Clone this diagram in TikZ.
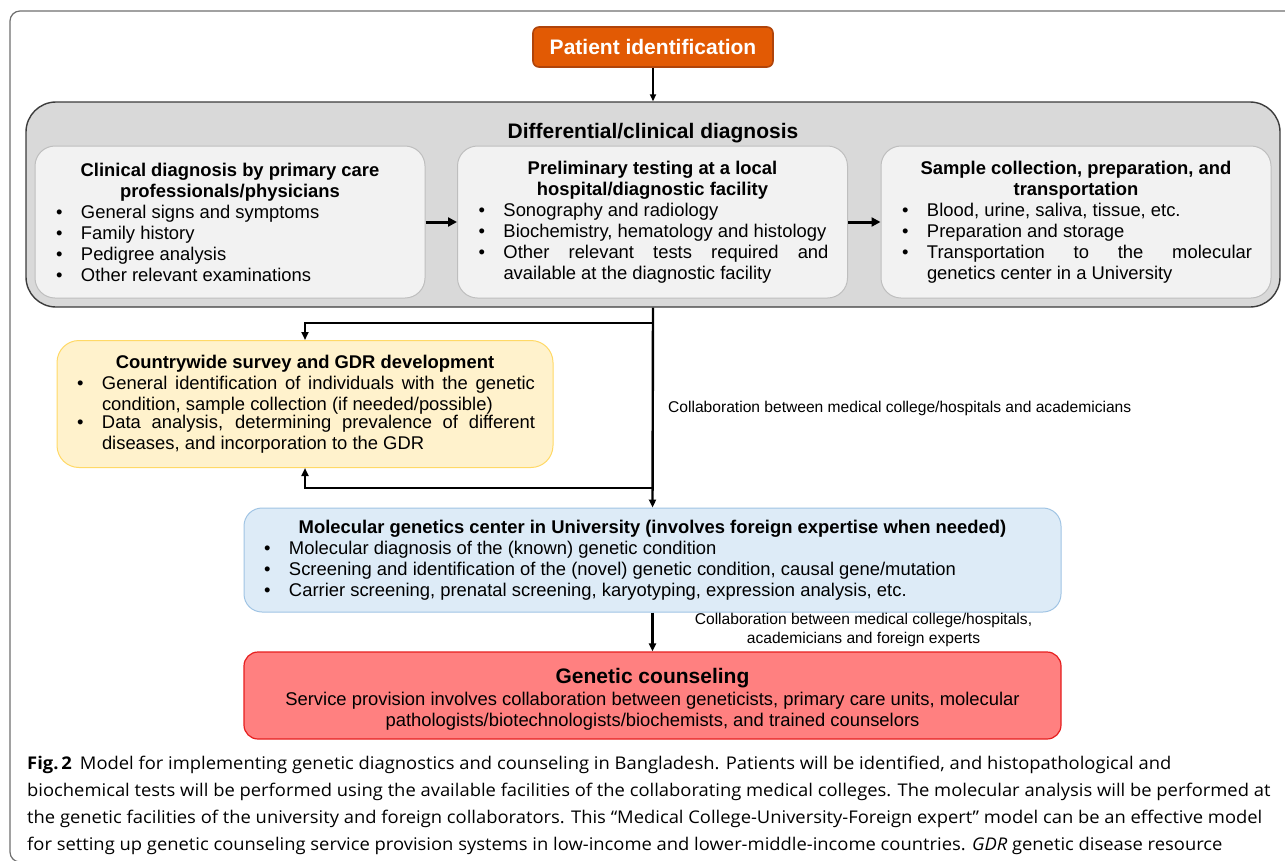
\documentclass[tikz,border=0pt]{standalone}
\usepackage{fontspec}
\setmainfont{Liberation Sans}
\newfontfamily\capfont{Open Sans}[FakeStretch=1.05]
\usetikzlibrary{arrows.meta}
\definecolor{orfill}{RGB}{226,90,4}
\definecolor{ordraw}{RGB}{176,68,10}
\definecolor{grfill}{RGB}{217,217,217}
\definecolor{grdraw}{RGB}{60,60,60}
\definecolor{infill}{RGB}{242,242,242}
\definecolor{indraw}{RGB}{190,190,190}
\definecolor{yefill}{RGB}{255,242,204}
\definecolor{yedraw}{RGB}{255,217,102}
\definecolor{blfill}{RGB}{221,235,247}
\definecolor{bldraw}{RGB}{160,196,228}
\definecolor{rdfill}{RGB}{255,128,128}
\definecolor{rddraw}{RGB}{230,30,30}
\definecolor{framecol}{RGB}{110,110,110}
\hyphenpenalty=10000
\exhyphenpenalty=10000
\tolerance=9999
\newcommand\bodyfs{\fontsize{18.4}{21}\selectfont}
\newcommand\bitem[1]{\par\noindent\makebox[27pt][l]{\hspace{2pt}\textbullet}\parbox[t]{\dimexpr\linewidth-27pt\relax}{\hyphenpenalty=10000\tolerance=9999 #1}\par}
\newcommand\btitle[1]{{\centering\bfseries #1\par}}
\begin{document}
\begin{tikzpicture}[x=1pt,y=-1pt,
  every node/.style={inner sep=0pt},
  txtbox/.style={align=justify, inner xsep=19pt, inner ysep=0pt, font=\bodyfs,
    execute at begin node={\parindent=0pt}},
  inbox/.style={txtbox, draw=indraw, fill=infill, line width=1pt, rounded corners=20pt,
    minimum width=390pt, minimum height=152pt, text width=352pt},
  arr/.style={line width=2.4pt, -{Triangle[length=8pt,width=7pt]}},
  thinarr/.style={line width=2pt, -{Triangle[length=7pt,width=6pt]}},
  thickarr/.style={line width=3pt, -{Triangle[length=9pt,width=9pt]}},
  lab/.style={font=\fontsize{15.6}{19.5}\selectfont}
]
\useasboundingbox (0,0) rectangle (1285,860);
\begin{scope}
\clip (0,0) rectangle (1285,860);
\draw[framecol, line width=1.2pt, rounded corners=10pt] (10,11) rectangle (1310,862);
\end{scope}

% patient
\node[draw=ordraw, fill=orfill, line width=1.6pt, rounded corners=6pt,
  minimum width=240pt, minimum height=40pt, text=white,
  font=\fontsize{21}{24}\selectfont\bfseries] (patient) at (653,47) {Patient identification};

% differential
\node[draw=grdraw, fill=grfill, line width=1.4pt, rounded corners=30pt,
  minimum width=1254pt, minimum height=205pt] (diff) at (653,204.5) {};
\node[font=\fontsize{21}{24}\selectfont\bfseries] (difftitle) at (653,133.5) {Differential/clinical diagnosis};

\node[inbox] (c1) at (230,222) {%
\btitle{Clinical diagnosis by primary care\par professionals/physicians}%
\bitem{General signs and symptoms}%
\bitem{Family history}%
\bitem{Pedigree analysis}%
\bitem{Other relevant examinations}};

\node[inbox] (c2) at (652.5,222) {%
\btitle{Preliminary testing at a local\par hospital/diagnostic facility}%
\bitem{Sonography and radiology}%
\bitem{Biochemistry, hematology and histology}%
\bitem{Other relevant tests required and\linebreak available at the diagnostic facility}};

\node[inbox] (c3) at (1076,222) {%
\btitle{Sample collection, preparation, and\par transportation}%
\bitem{Blood, urine, saliva, tissue, etc.}%
\bitem{Preparation and storage}%
\bitem{Transportation to the molecular\linebreak genetics center in a University}};

% yellow
\node[txtbox, draw=yedraw, fill=yefill, line width=1pt, rounded corners=22pt,
  minimum width=496pt, minimum height=127pt, text width=460pt, inner xsep=18pt] (survey) at (305,404) {%
\btitle{Countrywide survey and GDR development}%
\bitem{General identification of individuals with the genetic\linebreak condition, sample collection (if needed/possible)}%
\bitem{Data analysis, determining prevalence of different\linebreak diseases, and incorporation to the GDR}};

% molecular
\node[txtbox, draw=bldraw, fill=blfill, line width=1pt, rounded corners=18pt,
  minimum width=817pt, minimum height=104pt, text width=781pt, inner xsep=18pt] (mol) at (652.5,560) {%
\btitle{Molecular genetics center in University (involves foreign expertise when needed)}%
\bitem{Molecular diagnosis of the (known) genetic condition}%
\bitem{Screening and identification of the (novel) genetic condition, causal gene/mutation}%
\bitem{Carrier screening, prenatal screening, karyotyping, expression analysis, etc.}};

% genetic counseling
\node[draw=rddraw, fill=rdfill, line width=1.2pt, rounded corners=14pt,
  minimum width=817pt, minimum height=87pt] (gen) at (652.5,695.5) {};
\node[align=center, font=\bodyfs] (gentext) at (652.5,699) {%
{\fontsize{21}{25}\selectfont\bfseries Genetic counseling}\\[1pt]
Service provision involves collaboration between geneticists, primary care units, molecular\\
pathologists/biotechnologists/biochemists, and trained counselors};

% connectors
\draw[thinarr] (patient.south) -- (diff.north);
\draw[thickarr] (c1.east) -- (c2.west);
\draw[thickarr] (c2.east) -- (c3.west);
\coordinate (b1) at (653,323);
\coordinate (b2) at (653,488);
\draw[arr] (diff.south) -- (mol.north);
\draw[arr] (b1) -| (survey.north);
\draw[arr] (b2) -| (survey.south);
\draw[arr] (mol.south) -- (gen.north);

% labels
\node[lab, anchor=west] (lab1) at (668,408) {Collaboration between medical college/hospitals and academicians};
\node[lab, align=center] (lab2) at (863.5,630) {Collaboration between medical college/hospitals,\\academicians and foreign experts};

% caption
\node[anchor=north west, align=left, font=\capfont\fontsize{17.5}{27}\selectfont] (caption) at (27,756) {%
\textbf{Fig.\,2}\hspace{8pt}Model for implementing genetic diagnostics and counseling in Bangladesh. Patients will be identified, and histopathological and\\
biochemical tests will be performed using the available facilities of the collaborating medical colleges. The molecular analysis will be performed at\\
the genetic facilities of the university and foreign collaborators. This “Medical College-University-Foreign expert” model can be an effective model\\
for setting up genetic counseling service provision systems in low-income and lower-middle-income countries. \textit{GDR} genetic disease resource};
\end{tikzpicture}
\end{document}
